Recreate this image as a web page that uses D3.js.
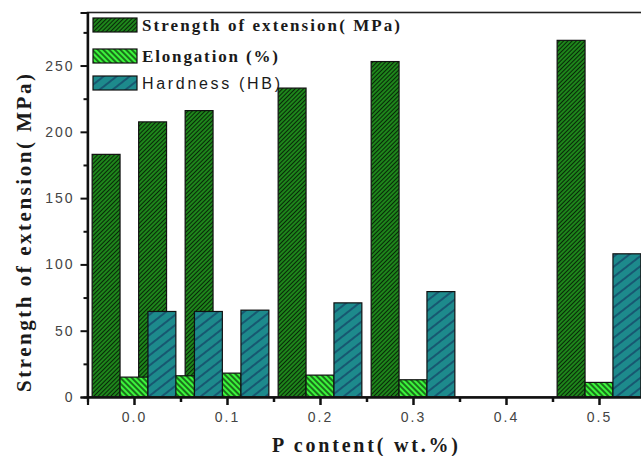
<!DOCTYPE html>
<html>
<head>
<meta charset="utf-8">
<script src="https://cdn.jsdelivr.net/npm/d3@7"></script>
<style>
  body { margin: 0; background: #fff; }
  svg { display: block; }
</style>
</head>
<body>
<svg id="chart" width="641" height="456"></svg>
<script>
// P content (wt.%) of each sample group
const pContent = [0, 0.05, 0.1, 0.2, 0.3, 0.5];
const strength = [183, 207.5, 216, 233, 253, 269];   // MPa
const elongation = [15, 16, 18, 16.5, 13, 11];        // %
const hardness = [64.5, 64.5, 65.5, 71, 79.5, 108];   // HB

const xTicks = [0, 0.1, 0.2, 0.3, 0.4, 0.5];
const xMinor = [0.05, 0.15, 0.25, 0.35, 0.45];
const yTicks = [0, 50, 100, 150, 200, 250];
const yMinor = [25, 75, 125, 175, 225, 275];

const seriesNames = ['Strength of extension( MPa)', 'Elongation (%)', 'Hardness (HB)'];

const svg = d3.select('#chart');

const x = d3.scaleLinear().domain([-0.05, 0.55]).range([87.5, 645.5]);
const y = d3.scaleLinear().domain([0, 290]).range([397, 12.5]);

const barW = 0.03; // bar width in x units

// hatch fills, the way Origin draws them
const defs = svg.append('defs');
function hatch(id, base, line, gap, angle, lw) {
    const p = defs.append('pattern')
        .attr('id', id)
        .attr('patternUnits', 'userSpaceOnUse')
        .attr('width', gap).attr('height', gap)
        .attr('patternTransform', `rotate(${angle})`);
    p.append('rect').attr('width', gap).attr('height', gap).attr('fill', base);
    p.append('line')
        .attr('x1', gap / 2).attr('y1', 0)
        .attr('x2', gap / 2).attr('y2', gap)
        .attr('stroke', line).attr('stroke-width', lw);
}
hatch('hStrength', '#1f8a1c', '#082808', 3, 45, 1.1);
hatch('hElong', '#3cf53c', '#0c3a0c', 4, -45, 1.4);
hatch('hHard', '#1d8a8c', '#122e5a', 8, 52, 1.1);

const fills = ['url(#hStrength)', 'url(#hElong)', 'url(#hHard)'];
const seriesVals = [strength, elongation, hardness];

// bars are drawn series by series so later series sit on top
seriesVals.forEach((vals, si) => {
    svg.append('g')
        .selectAll('rect')
        .data(vals)
        .enter()
        .append('rect')
        .attr('x', (d, i) => x(pContent[i] - 1.5 * barW + si * barW))
        .attr('width', (d, i) => x(pContent[i] + barW) - x(pContent[i]))
        .attr('y', d => y(d))
        .attr('height', d => y(0) - y(d))
        .attr('fill', fills[si])
        .attr('stroke', '#111')
        .attr('stroke-width', 1.2);
});

// frame
svg.append('rect')
    .attr('x', x(-0.05)).attr('y', y(290))
    .attr('width', x(0.55) - x(-0.05))
    .attr('height', y(0) - y(290))
    .attr('fill', 'none')
    .attr('stroke', '#222')
    .attr('stroke-width', 1.6);

// axes
const tickFont = g => g.selectAll('text')
    .attr('font-family', 'Liberation Sans, Arial, sans-serif')
    .attr('font-size', 14)
    .attr('fill', '#444')
    .attr('letter-spacing', '2px');

const yAxis = svg.append('g')
    .attr('transform', `translate(${x(-0.05)},0)`)
    .call(d3.axisLeft(y).tickValues(yTicks).tickSize(7).tickPadding(6).tickFormat(d3.format('d')));
yAxis.call(tickFont);
yAxis.selectAll('line').attr('stroke', '#111').attr('stroke-width', 2);
svg.append('g')
    .attr('transform', `translate(${x(-0.05)},0)`)
    .call(d3.axisLeft(y).tickValues(yMinor).tickSize(4).tickFormat(''))
    .selectAll('line').attr('stroke', '#111').attr('stroke-width', 2);

const xAxis = svg.append('g')
    .attr('transform', `translate(0,${y(0)})`)
    .call(d3.axisBottom(x).tickValues(xTicks).tickSize(8).tickPadding(7).tickFormat(d3.format('.1f')));
xAxis.call(tickFont);
xAxis.selectAll('line').attr('stroke', '#111').attr('stroke-width', 2.5);
svg.append('g')
    .attr('transform', `translate(0,${y(0)})`)
    .call(d3.axisBottom(x).tickValues(xMinor).tickSize(5).tickFormat(''))
    .selectAll('line').attr('stroke', '#111').attr('stroke-width', 2.5);

svg.selectAll('.domain').attr('stroke', '#111').attr('stroke-width', 2.2);

// axis titles
svg.append('text')
    .attr('transform', 'translate(31,233) rotate(-90)')
    .attr('text-anchor', 'middle')
    .attr('font-family', 'Liberation Serif, Times New Roman, serif')
    .attr('font-weight', 'bold')
    .attr('font-size', 21)
    .attr('fill', '#1a1a1a')
    .attr('textLength', 318)
    .attr('lengthAdjust', 'spacing')
    .text('Strength of extension( MPa)');

svg.append('text')
    .attr('x', 365).attr('y', 452)
    .attr('text-anchor', 'middle')
    .attr('font-family', 'Liberation Serif, Times New Roman, serif')
    .attr('font-weight', 'bold')
    .attr('font-size', 20)
    .attr('fill', '#1a1a1a')
    .attr('textLength', 186)
    .attr('lengthAdjust', 'spacing')
    .text('P content( wt.%)');

// legend
const legRows = [18, 49, 76];
const legText = [
    {w: 258, bold: true, serif: true, size: 17},
    {w: 136, bold: true, serif: true, size: 17},
    {w: 138, bold: false, serif: false, size: 16}
];
const legend = svg.append('g');
seriesNames.forEach((name, i) => {
    legend.append('rect')
        .attr('x', 93).attr('y', legRows[i])
        .attr('width', 44).attr('height', 14)
        .attr('fill', fills[i])
        .attr('stroke', '#111')
        .attr('stroke-width', 1.2);
    legend.append('text')
        .attr('x', 142).attr('y', legRows[i] + 13)
        .attr('font-family', legText[i].serif ? 'Liberation Serif, Times New Roman, serif' : 'Liberation Sans, Arial, sans-serif')
        .attr('font-weight', legText[i].bold ? 'bold' : 'normal')
        .attr('font-size', legText[i].size)
        .attr('fill', '#1a1a1a')
        .attr('textLength', legText[i].w)
        .attr('lengthAdjust', 'spacing')
        .text(name);
});
</script>
</body>
</html>
